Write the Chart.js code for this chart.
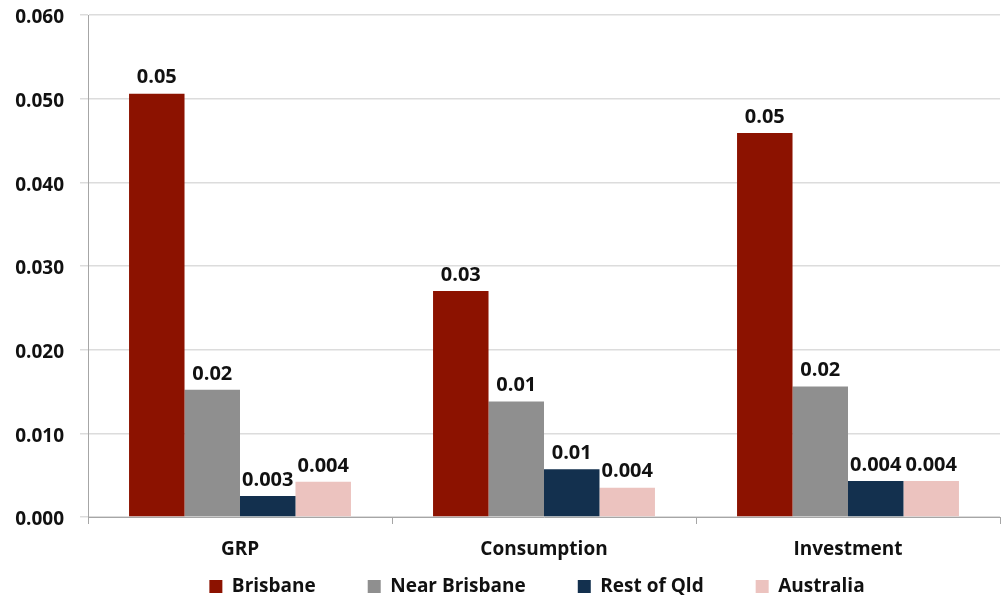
<!DOCTYPE html>
<html>
<head>
<meta charset="utf-8">
<script src="https://cdn.jsdelivr.net/npm/chart.js@4/dist/chart.umd.min.js"></script>
<style>
  html, body { margin: 0; padding: 0; background: #ffffff; }
  #wrap { width: 1006px; height: 601px; position: relative; }
</style>
</head>
<body>
<div id="wrap"><canvas id="chart"></canvas></div>
<script>
const categories = ['GRP', 'Consumption', 'Investment'];
const brisbane = [0.0506, 0.0270, 0.0459];
const nearBrisbane = [0.0152, 0.0138, 0.0156];
const restOfQld = [0.0025, 0.0057, 0.0043];
const australia = [0.0042, 0.0035, 0.0043];
// labels as printed in the original (rounded inconsistently)
const brisbaneLabels = ['0.05', '0.03', '0.05'];
const nearBrisbaneLabels = ['0.02', '0.01', '0.02'];
const restOfQldLabels = ['0.003', '0.01', '0.004'];
const australiaLabels = ['0.004', '0.004', '0.004'];
const yTicks = ['0.000', '0.010', '0.020', '0.030', '0.040', '0.050', '0.060'];

const FONT = "'Open Sans', 'Liberation Sans', sans-serif";

const valueLabels = {
  id: 'valueLabels',
  afterDatasetsDraw(chart) {
    const ctx = chart.ctx;
    ctx.save();
    ctx.font = `bold 20px ${FONT}`;
    ctx.fillStyle = '#111111';
    ctx.textAlign = 'center';
    ctx.textBaseline = 'bottom';
    chart.data.datasets.forEach((ds, i) => {
      const meta = chart.getDatasetMeta(i);
      meta.data.forEach((bar, j) => {
        ctx.fillText(ds.valueLabels[j], bar.x, bar.y - 6);
      });
    });
    ctx.restore();
  }
};

// keep the legend low and shifted right like the original
const legendTweak = {
  id: 'legendTweak',
  beforeInit(chart) {
    const lg = chart.legend;
    const fit = lg.fit;
    lg.fit = function () {
      fit.call(this);
      this.height = 38;
    };
  },
  afterLayout(chart) {
    const lg = chart.legend;
    lg.left += 37;
    lg.right += 37;
    lg.top = 525;
    lg.bottom = 601;
  }
};

new Chart(document.getElementById('chart'), {
  type: 'bar',
  data: {
    labels: categories,
    datasets: [
      { label: 'Brisbane', data: brisbane, valueLabels: brisbaneLabels, backgroundColor: '#8c1200' },
      { label: 'Near Brisbane', data: nearBrisbane, valueLabels: nearBrisbaneLabels, backgroundColor: '#8f8f8f' },
      { label: 'Rest of Qld', data: restOfQld, valueLabels: restOfQldLabels, backgroundColor: '#13304e' },
      { label: 'Australia', data: australia, valueLabels: australiaLabels, backgroundColor: '#ecc3bf' }
    ]
  },
  options: {
    responsive: true,
    maintainAspectRatio: false,
    animation: false,
    layout: { padding: { top: 0, right: 6, left: 0, bottom: 0 } },
    datasets: { bar: { categoryPercentage: 0.73, barPercentage: 1.0 } },
    plugins: {
      tooltip: { enabled: false },
      legend: {
        position: 'bottom',
        labels: {
          font: { family: FONT, size: 19, weight: 'bold' },
          color: '#111111',
          boxWidth: 13,
          boxHeight: 13,
          padding: 52
        }
      }
    },
    scales: {
      x: {
        grid: { drawOnChartArea: false, color: '#a6a6a6', tickLength: 7, offset: true },
        border: { color: '#a6a6a6', width: 1 },
        ticks: { font: { family: FONT, size: 19, weight: 'bold' }, color: '#111111', padding: 14 },
        afterFit(scale) { scale.height = 46; }
      },
      y: {
        min: 0,
        max: 0.06,
        grid: { color: '#dcdcdc', tickLength: 8, lineWidth: 1.5 },
        border: { color: '#a6a6a6', width: 1 },
        ticks: {
          stepSize: 0.01,
          font: { family: FONT, size: 19, weight: 'bold' },
          color: '#111111',
          padding: 16,
          labelOffset: 3,
          callback: (v, i) => yTicks[i]
        },
        afterFit(scale) {
          scale.width = 88;
          scale.paddingTop = 15;
          scale.paddingBottom = 0;
        }
      }
    }
  },
  plugins: [valueLabels, legendTweak]
});
</script>
</body>
</html>
